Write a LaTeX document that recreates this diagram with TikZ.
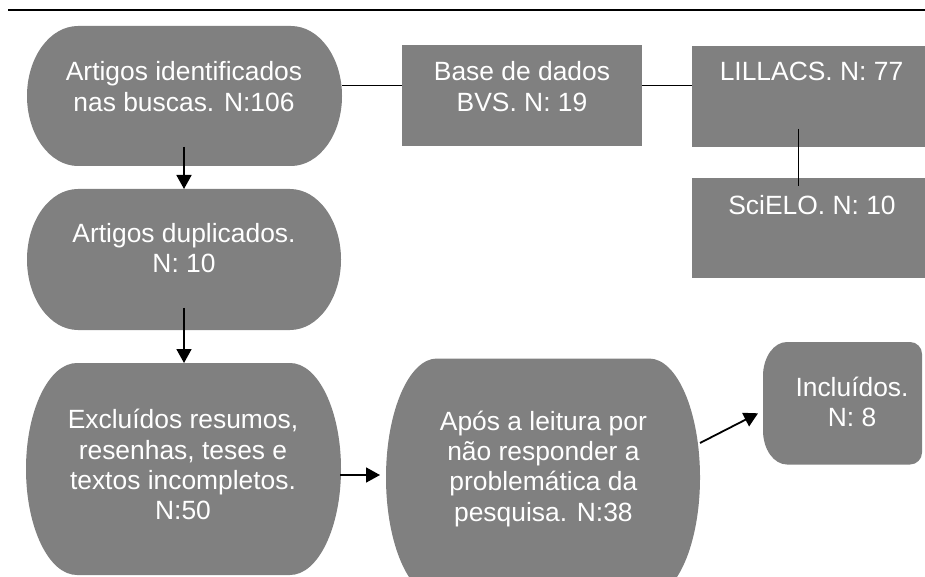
\documentclass[tikz,border=0pt]{standalone}
\usepackage{fontspec}
\setmainfont{Liberation Sans}
\usepackage{tikz}
\usetikzlibrary{arrows.meta,calc}
\definecolor{boxgray}{RGB}{128,128,128}
\newcommand{\cornerx}{51}
\newcommand{\termshape}[4]{%
  \fill[boxgray] (#1+\cornerx,#2) -- (#3-\cornerx,#2)
    arc[start angle=90,end angle=-90,x radius=\cornerx,y radius={(#2-#4)/2}]
    -- (#1+\cornerx,#4)
    arc[start angle=270,end angle=90,x radius=\cornerx,y radius={(#2-#4)/2}] -- cycle;}
\tikzset{
  lbl/.style={text=white, align=center, inner sep=0pt, font=\fontsize{26.4}{30.3}\selectfont},
  link/.style={line width=0.9pt},
  flow/.style={line width=1.8pt, -{Triangle[length=14pt,width=15pt]}},
}

\begin{document}
\begin{tikzpicture}[x=1pt,y=1pt]
\useasboundingbox (0,0) rectangle (925,576);
\draw[line width=1.3pt] (8,566) -- (925,566);

\termshape{27}{550}{342}{410}
\termshape{27}{387}{341}{246}
\termshape{26}{213}{341}{1}
\termshape{386}{217.5}{700}{-20.5}
\fill[boxgray] (402,531) rectangle (642,430);
\fill[boxgray] (692,530) rectangle (935,429);
\fill[boxgray] (692,398) rectangle (935,298);
\fill[boxgray] (787,234) -- (910,234) arc[start angle=90,end angle=0,radius=12]
  -- (922,123.5) arc[start angle=0,end angle=-90,radius=12]
  -- (787,111.5) arc[start angle=270,end angle=180,x radius=24,y radius=34]
  -- (763,200) arc[start angle=180,end angle=90,x radius=24,y radius=34] -- cycle;

\node[lbl] (busca) at (184,489.5) {Artigos identificados\\nas buscas. N:106};
\node[lbl] (bvs) at (522,489.5) {Base de dados\\BVS. N: 19};
\node[lbl] (lilacs) at (811.5,504.2) {LILLACS. N: 77};
\node[lbl] (scielo) at (812,371.2) {SciELO. N: 10};
\node[lbl] (dupl) at (184,327.9) {Artigos duplicados.\\N: 10};
\node[lbl] (excl) at (183,111.2) {Excluídos resumos,\\resenhas, teses e\\textos incompletos.\\N:50};
\node[lbl] (leitura) at (543.4,107.4) {Após a leitura por\\não responder a\\problemática da\\pesquisa. N:38};
\node[lbl] (incl) at (852,174) {Incluídos.\\N: 8};

\coordinate (busca-e) at (342,490.7);
\coordinate (bvs-w) at (402,490.7);
\coordinate (bvs-e) at (642,490.7);
\coordinate (lil-w) at (692,490.7);
\coordinate (lil-s) at (798,447);
\coordinate (sci-n) at (798,390);
\coordinate (busca-s) at (184,429);
\coordinate (dupl-n) at (184,387);
\coordinate (dupl-s) at (184,268);
\coordinate (excl-n) at (184,213);
\coordinate (excl-e) at (340,101);
\coordinate (leit-w) at (380,101);
\coordinate (leit-e) at (700,133);
\coordinate (incl-w) at (758,162.7);

\draw[link] (busca-e) -- (bvs-w);
\draw[link] (bvs-e) -- (lil-w);
\draw[link] (lil-s) -- (sci-n);
\draw[flow] (busca-s) -- (dupl-n);
\draw[flow] (dupl-s) -- (excl-n);
\draw[flow] (excl-e) -- (leit-w);
\draw[flow] (leit-e) -- (incl-w);
\end{tikzpicture}
\end{document}
